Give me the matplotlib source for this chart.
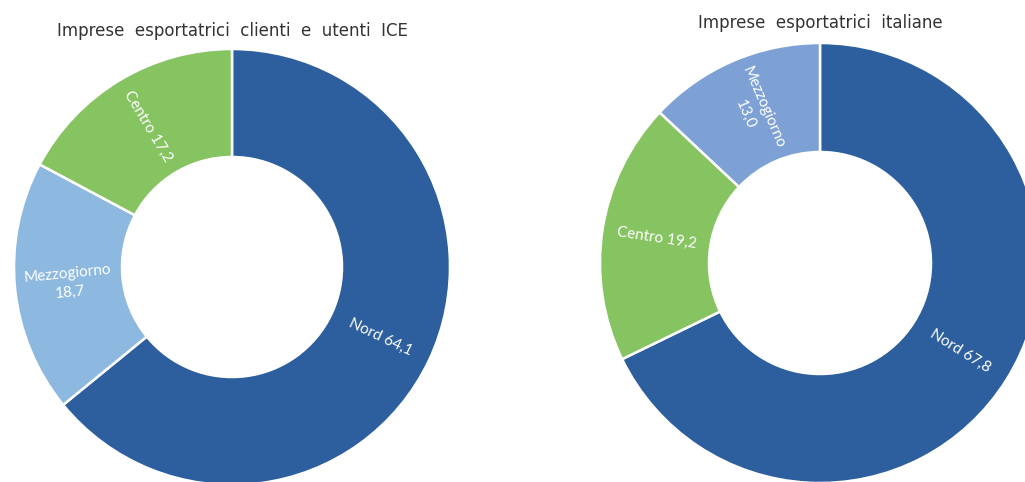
import matplotlib
matplotlib.use("Agg")
import matplotlib.pyplot as plt
import numpy as np

# Data
left_title = "Imprese  esportatrici  clienti  e  utenti  ICE"
left_labels = ["Nord", "Mezzogiorno", "Centro"]
left_values = [64.1, 18.7, 17.2]
left_text = ["Nord 64,1", "Mezzogiorno\n18,7", "Centro 17,2"]

right_title = "Imprese  esportatrici  italiane"
right_labels = ["Nord", "Centro", "Mezzogiorno"]
right_values = [67.8, 19.2, 13.0]
right_text = ["Nord 67,8", "Centro 19,2", "Mezzogiorno\n13,0"]

W, H = 1025, 482
fig = plt.figure(figsize=(W / 100, H / 100), dpi=100)
ax = fig.add_axes([0, 0, 1, 1])
ax.set_xlim(0, W)
ax.set_ylim(0, H)
ax.set_aspect("equal")
ax.axis("off")

NORD = "#2D5F9E"
CENTRO = "#86C462"
left_colors = [NORD, "#8DB8E0", CENTRO]
right_colors = [NORD, CENTRO, "#7EA1D5"]


def donut(values, colors, texts, cx, cy, r, r_in, title, ty):
    wedges, _ = ax.pie(values, colors=colors, startangle=90, counterclock=False,
                       center=(cx, H - cy), radius=r, frame=True,
                       wedgeprops=dict(width=r - r_in, edgecolor="white", linewidth=1.8))
    rm = (r + r_in) / 2
    for w, t in zip(wedges, texts):
        mid = (w.theta1 + w.theta2) / 2
        rad = np.deg2rad(mid)
        x = cx + rm * np.cos(rad)
        y = H - cy + rm * np.sin(rad)
        rot = ((mid + 180) % 360) - 180
        if rot > 90:
            rot -= 180
        elif rot < -90:
            rot += 180
        ax.text(x, y, t, ha="center", va="center", rotation=rot,
                rotation_mode="anchor", color="white", fontsize=11,
                family="Lato", multialignment="center", linespacing=1.45)
    ax.text(cx, H - ty, title, ha="center", va="center", fontsize=12,
            family="DejaVu Sans", color="#333333")


donut(left_values, left_colors, left_text, 232, 267, 218, 110, left_title, 31)
donut(right_values, right_colors, right_text, 820, 263, 220, 111, right_title, 23)

ax.set_xlim(0, W)
ax.set_ylim(0, H)
ax.axis("off")
fig.savefig("out.png", dpi=100)
